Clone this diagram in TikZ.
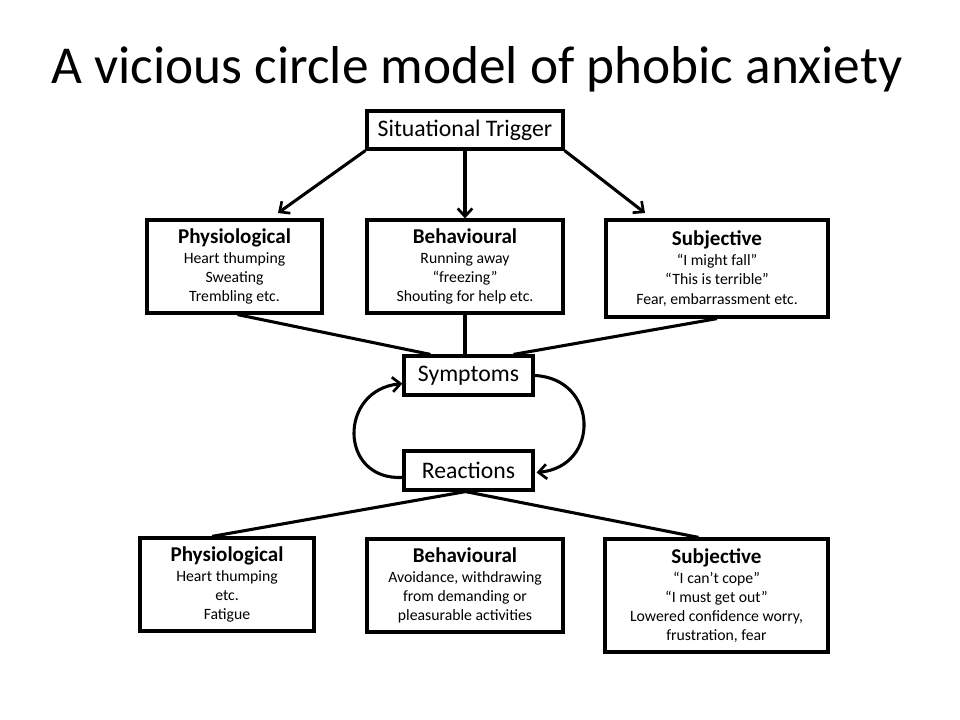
\documentclass[tikz,border=0pt]{standalone}
\usepackage{fontspec}
\setmainfont{Carlito}
\usetikzlibrary{arrows.meta,calc}
\newcommand{\hd}[1]{{\fontsize{15.8}{17}\selectfont\bfseries #1}\\[0.5pt]}
\tikzset{
  box/.style={draw,line width=2.4pt,align=center,inner sep=0pt,
    font=\fontsize{11.8}{14.4}\selectfont},
  small/.style={box,font=\fontsize{17.8}{20}\selectfont},
  link/.style={line width=2.3pt},
  arr/.style={line width=2.3pt,-{Straight Barb[length=6pt,width=11pt,line width=2pt]}}
}
\begin{document}
\begin{tikzpicture}[x=0.75pt,y=-0.75pt]
                        \useasboundingbox (0,0) rectangle (960,720);
                        \node[font=\fontsize{40}{46}\selectfont] (title) at (477,69) {A vicious circle model of phobic anxiety};
                        \node[small,minimum width=147pt,minimum height=28.5pt] (trig) at (465,130) {Situational Trigger};
                        \node[box,minimum width=131.25pt,minimum height=69.75pt] (physA) at (234.5,266.5)
                            {\hd{Physiological}Heart thumping\\Sweating\\Trembling etc.};
                        \node[box,minimum width=147pt,minimum height=69.75pt] (behA) at (465,266.5)
                            {\hd{Behavioural}Running away\\“freezing”\\Shouting for help etc.};
                        \node[box,minimum width=166.5pt,minimum height=72.75pt] (subjA) at (717,268.5)
                            {\hd{Subjective}“I might fall”\\“This is terrible”\\Fear, embarrassment etc.};
                        \node[small,minimum width=96.75pt,minimum height=29.25pt] (symp) at (468.5,375.5) {Symptoms};
                        \node[small,minimum width=96.75pt,minimum height=29.25pt] (react) at (468.5,470.5) {Reactions};
                        \node[box,minimum width=130.5pt,minimum height=69.75pt] (physB) at (227,584.5)
                            {\hd{Physiological}Heart thumping\\etc.\\Fatigue};
                        \node[box,minimum width=147pt,minimum height=69.75pt] (behB) at (465,585.5)
                            {\hd{Behavioural}Avoidance, withdrawing\\from demanding or\\pleasurable activities};
                        \node[box,minimum width=167.25pt,minimum height=84.75pt] (subjB) at (716.5,595.5)
                            {\hd{Subjective}“I can’t cope”\\“I must get out”\\Lowered confidence worry,\\frustration, fear};
                        \coordinate (tL) at (278,213);
                        \coordinate (tR) at (645,213);
                        \draw[arr] (trig.south west) -- (tL);
                        \draw[arr] (trig.south -| behA.north) -- (behA.north);
                        \draw[arr] (trig.south east) -- (tR);
                        \draw[link] ($(physA.south)+(3,0)$) -- ($(symp.north west)+(28,0)$);
                        \draw[link] (behA.south) -- (behA.south |- symp.north);
                        \draw[link] (subjA.south) -- ($(symp.north east)+(-21,0)$);
                        \draw[link] ($(react.south)+(-3,0)$) -- ($(physB.north)+(-15,0)$);
                        \draw[link] ($(react.south)+(-3,0)$) -- ($(react.south)+(-3,0)$ |- behB.north);
                        \draw[link] ($(react.south)+(-3,0)$) -- ($(subjB.north)+(-18,0)$);
                        \draw[arr] (react.186) .. controls +(-64,3) and +(-64,6) .. (symp.187);
                        \draw[arr] (symp.east) .. controls +(64,3) and +(64,-6) .. ($(react.east)+(2,2)$);
                \end{tikzpicture}
\end{document}
